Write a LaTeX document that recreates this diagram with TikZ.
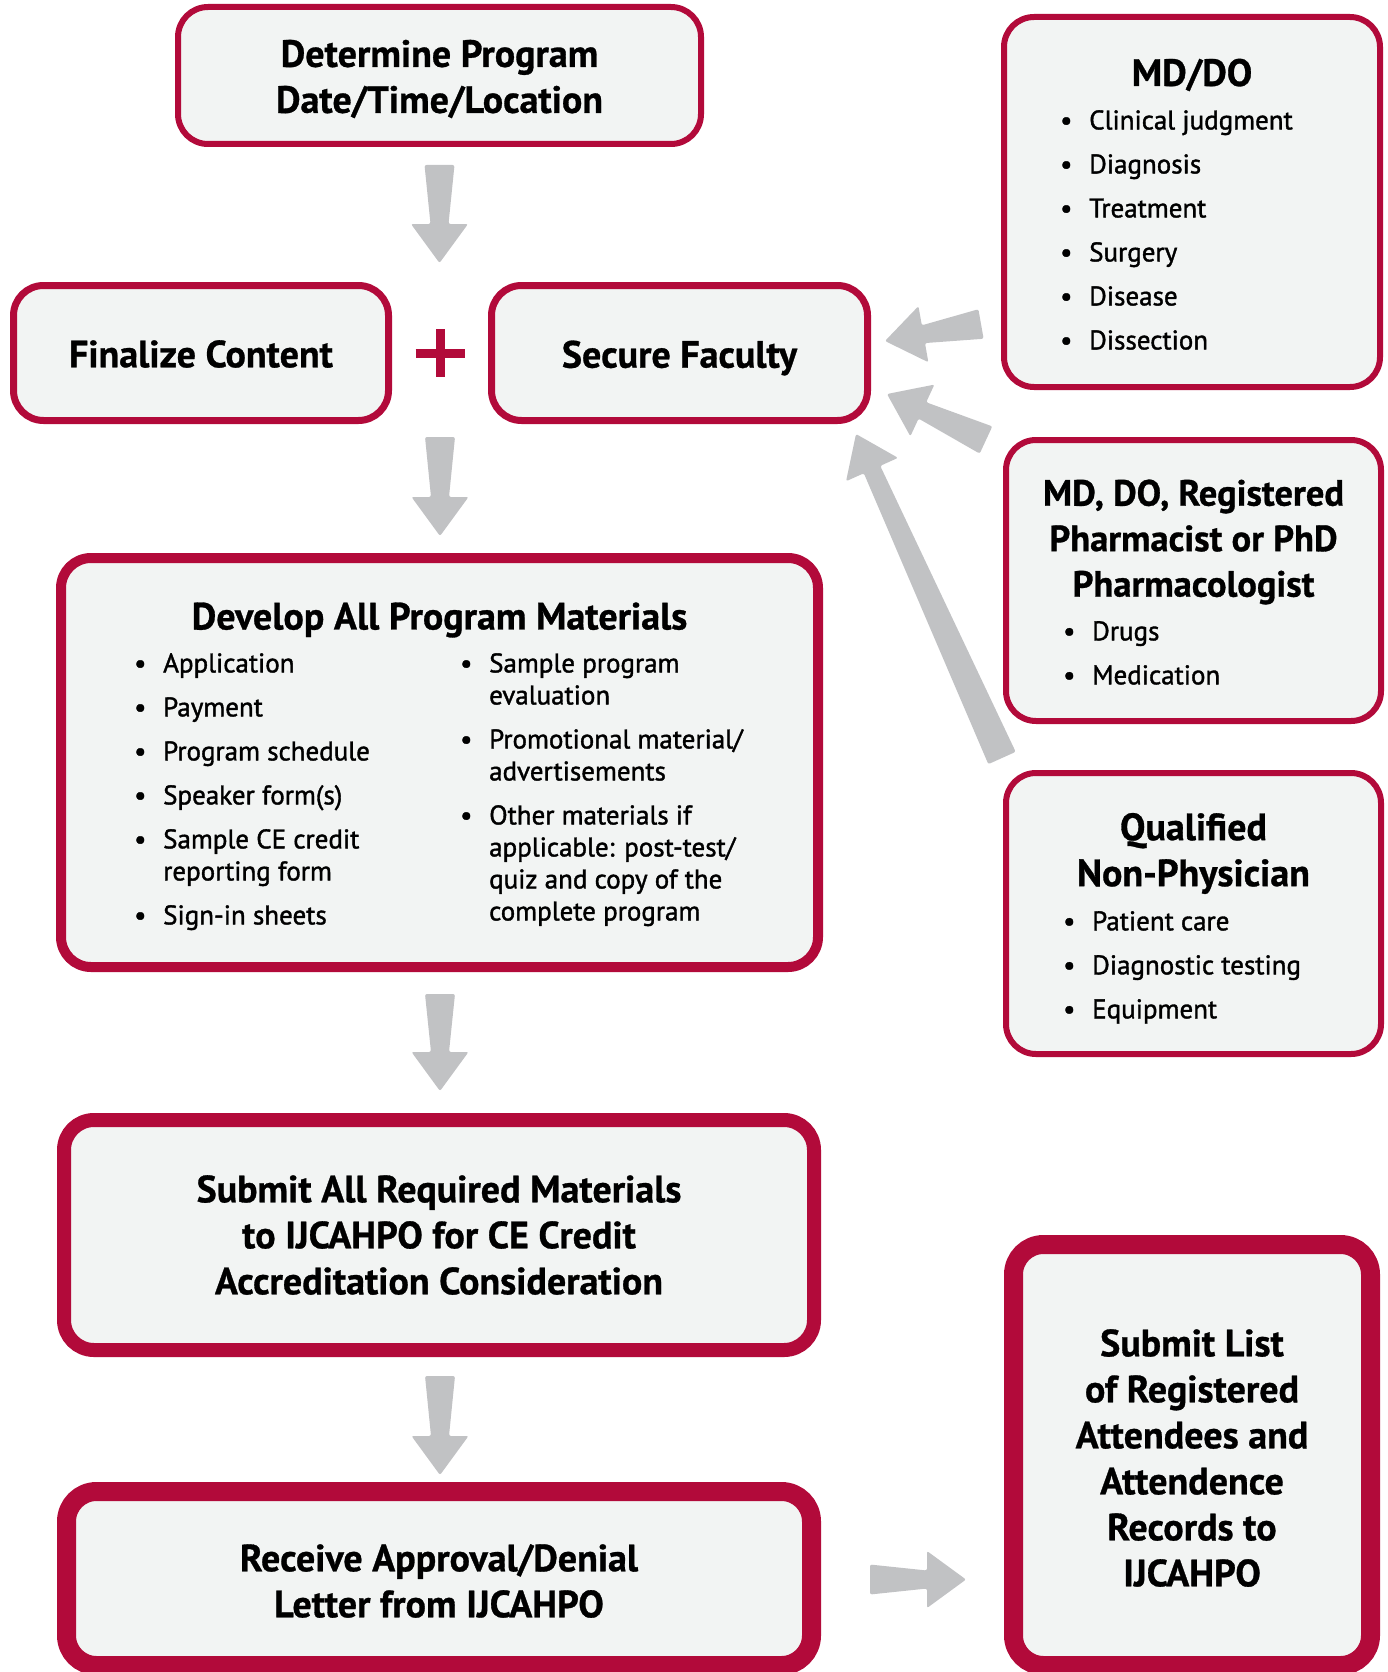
\documentclass[tikz,border=0pt]{standalone}
\usepackage{fontspec}
\setmainfont{PT Sans}
\newfontfamily\listfont[FakeBold=1.4]{PT Sans}
\newfontfamily\headfont[BoldFeatures={FakeBold=0.8}]{PT Sans}
\usetikzlibrary{calc}

\definecolor{crimson}{HTML}{B20A3A}
\definecolor{boxfill}{HTML}{F2F4F3}
\definecolor{arrowgray}{HTML}{C1C2C4}

\tikzset{
  stepbox/.style={draw=crimson, fill=boxfill, line width=#1, rounded corners=30pt, inner sep=0pt},
  stepbox/.default=6pt,
  headtext/.style={font=\headfont\fontsize{38}{46}\selectfont\bfseries, align=center, inner sep=0pt},
  listtext/.style={font=\listfont\fontsize{27}{32}\selectfont, align=left, inner sep=0pt, anchor=north west}
}

% bullet and hanging indent for the lists
\newcommand{\bitem}{\makebox[29pt][l]{\textbullet}}
\newcommand{\bnext}{\hspace*{29pt}}

% fat gray arrow from tail #1 to tip #2
\newcommand{\fatarrow}[2]{%
  \coordinate (hb) at ($(#2)!39pt!(#1)$);
  \fill[arrowgray, rounded corners=2pt]
    ($(#1)!15pt!90:(#2)$) -- ($(hb)!9pt!90:(#2)$) -- ($(hb)!28.5pt!90:(#2)$) -- (#2)
    -- ($(hb)!28.5pt!-90:(#2)$) -- ($(hb)!9pt!-90:(#2)$) -- ($(#1)!15pt!-90:(#2)$) -- cycle;
}

\begin{document}
\begin{tikzpicture}[x=1pt, y=-1pt]
  \path[use as bounding box, clip] (0,0) rectangle (1388,1672);

  % Main column
  \node[stepbox, minimum width=523, minimum height=137] (determine) at (439.5,75.5) {};
  \node[headtext] (determineText) at (439.5,79) {Determine Program\\Date/Time/Location};

  \node[stepbox=7pt, minimum width=375, minimum height=135] (finalize) at (201,353) {};
  \node[headtext] (finalizeText) at (201,354) {Finalize Content};

  \node[stepbox=7pt, minimum width=376, minimum height=135] (faculty) at (679.5,353) {};
  \node[headtext] (facultyText) at (679.5,358) {Secure Faculty};

  % Plus between the two boxes
  \draw[crimson, line width=9] (415.5,353) -- (464.5,353) (440,329) -- (440,377);

  \node[stepbox=10pt, minimum width=757, minimum height=409] (develop) at (439.5,762.5) {};
  \node[headtext] (developText) at (439.5,620) {Develop All Program Materials};
  \node[listtext] (developLeft) at (134,653) {%
    \bitem Application\\[12pt]
    \bitem Payment\\[12pt]
    \bitem Program schedule\\[12pt]
    \bitem Speaker form(s)\\[12pt]
    \bitem Sample CE credit\\
    \bnext reporting form\\[12pt]
    \bitem Sign-in sheets};
  \node[listtext] (developRight) at (460,653) {%
    \bitem Sample program\\
    \bnext evaluation\\[12pt]
    \bitem Promotional material/\\
    \bnext advertisements\\[12pt]
    \bitem Other materials if\\
    \bnext applicable: post-test/\\
    \bnext quiz and copy of the\\
    \bnext complete program};

  \node[stepbox=14pt, minimum width=750, minimum height=230] (submitAll) at (439,1235) {};
  \node[headtext] (submitAllText) at (439,1235) {Submit All Required Materials\\to IJCAHPO for CE Credit\\Accreditation Consideration};

  \node[stepbox=19pt, minimum width=745, minimum height=174] (receive) at (439,1578.5) {};
  \node[headtext] (receiveText) at (439,1581) {Receive Approval/Denial\\Letter from IJCAHPO};

  % Right column
  \node[stepbox, minimum width=376, minimum height=370] (mddo) at (1192,202) {};
  \node[headtext] (mddoText) at (1192,75) {MD/DO};
  \node[listtext] (mddoList) at (1060,110) {%
    \bitem Clinical judgment\\[12pt]
    \bitem Diagnosis\\[12pt]
    \bitem Treatment\\[12pt]
    \bitem Surgery\\[12pt]
    \bitem Disease\\[12pt]
    \bitem Dissection};

  \node[stepbox, minimum width=375, minimum height=281] (pharm) at (1193.5,580.5) {};
  \node[headtext, font=\headfont\fontsize{36.5}{45.5}\selectfont\bfseries] (pharmText) at (1193.5,542) {MD, DO, Registered\\Pharmacist or PhD\\Pharmacologist};
  \node[listtext] (pharmList) at (1063,621) {%
    \bitem Drugs\\[12pt]
    \bitem Medication};

  \node[stepbox, minimum width=375, minimum height=281] (qualified) at (1193.5,913.5) {};
  \node[headtext] (qualifiedText) at (1193.5,853.5) {Qualified\\Non-Physician};
  \node[listtext] (qualifiedList) at (1063,911) {%
    \bitem Patient care\\[12pt]
    \bitem Diagnostic testing\\[12pt]
    \bitem Equipment};

  \node[stepbox=19pt, minimum width=357, minimum height=421] (submitList) at (1192,1455) {};
  \node[headtext] (submitListText) at (1192,1458) {Submit List\\of Registered\\Attendees and\\Attendence\\Records to\\IJCAHPO};

  % Arrow ends
  \coordinate (s1) at (439.5,165);  \coordinate (e1) at (439.5,263);
  \coordinate (s2) at (440,437);    \coordinate (e2) at (440,536);
  \coordinate (s3) at (440,994);    \coordinate (e3) at (440,1091);
  \coordinate (s4) at (440,1376);   \coordinate (e4) at (440,1475);
  \coordinate (s5) at (870,1579.5); \coordinate (e5) at (966,1579.5);
  \coordinate (s6) at (981,324);    \coordinate (e6) at (885,341);
  \coordinate (s7) at (986,440);    \coordinate (e7) at (887,394);
  \coordinate (s8) at (1002,758);   \coordinate (e8) at (856,434);

  \fatarrow{s1}{e1}
  \fatarrow{s2}{e2}
  \fatarrow{s3}{e3}
  \fatarrow{s4}{e4}
  \fatarrow{s5}{e5}
  \fatarrow{s6}{e6}
  \fatarrow{s7}{e7}
  \fatarrow{s8}{e8}
\end{tikzpicture}
\end{document}
